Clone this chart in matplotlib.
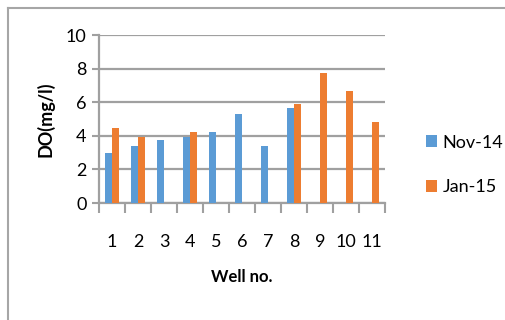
import matplotlib.pyplot as plt
import numpy as np
from matplotlib.lines import Line2D

# Data
wells = ['1', '2', '3', '4', '5', '6', '7', '8', '9', '10', '11']
nov14 = [2.95, 3.4, 3.75, 3.95, 4.2, 5.3, 3.4, 5.65, np.nan, np.nan, np.nan]
jan15 = [4.45, 3.9, np.nan, 4.2, np.nan, np.nan, np.nan, 5.9, 7.75, 6.65, 4.85]

plt.rcParams['font.family'] = ['Lato', 'DejaVu Sans']

W, H = 506, 320
fig = plt.figure(figsize=(W / 100, H / 100), dpi=100)

# outer chart border (cropped on right and bottom)
fig.add_artist(Line2D([8 / W, 8 / W], [0, 1 - 8 / H], color='#a6a6a6', lw=1.5))
fig.add_artist(Line2D([8 / W, 1], [1 - 8 / H, 1 - 8 / H], color='#a6a6a6', lw=1.5))

ax = fig.add_axes([99 / W, (H - 203) / H, 286 / W, 168 / H])

x = np.arange(len(wells))
bw = 0.28
ax.bar(x - bw / 2, nov14, bw, color='#5b9bd5', label='Nov-14', zorder=3)
ax.bar(x + bw / 2, jan15, bw, color='#ed7d31', label='Jan-15', zorder=3)

ax.set_xlim(-0.5, len(wells) - 0.5)
ax.set_ylim(0, 10)
ax.set_yticks(range(0, 11, 2))
ax.yaxis.grid(True, color='#a0a0a0', lw=1.6, zorder=0)

# category ticks at boundaries, labels at centers
ax.set_xticks(np.arange(len(wells) + 1) - 0.5)
ax.set_xticklabels([])
ax.set_xticks(x, minor=True)
ax.set_xticklabels(wells, minor=True)
ax.tick_params(axis='x', which='major', length=7, width=1.5, color='#a0a0a0', direction='out')
ax.tick_params(axis='x', which='minor', length=0, pad=22, labelsize=13)
ax.tick_params(axis='y', length=5, width=1.5, color='#a0a0a0', labelsize=13, pad=4)

for s in ['top', 'right']:
    ax.spines[s].set_visible(False)
for s in ['left', 'bottom']:
    ax.spines[s].set_color('#a0a0a0')
    ax.spines[s].set_linewidth(1.6)

ax.set_ylabel('DO(mg/l)', fontsize=13, fontweight='bold', labelpad=8)
ax.set_xlabel('Well no.', fontsize=12, fontweight='bold', labelpad=14)

ax.legend(loc='center left', bbox_to_anchor=(410 / W, (H - 165) / H),
          bbox_transform=fig.transFigure, frameon=False, fontsize=13,
          handlelength=0.6, handleheight=0.6, handletextpad=0.3, labelspacing=1.6)

fig.savefig('out.png', dpi=100)
